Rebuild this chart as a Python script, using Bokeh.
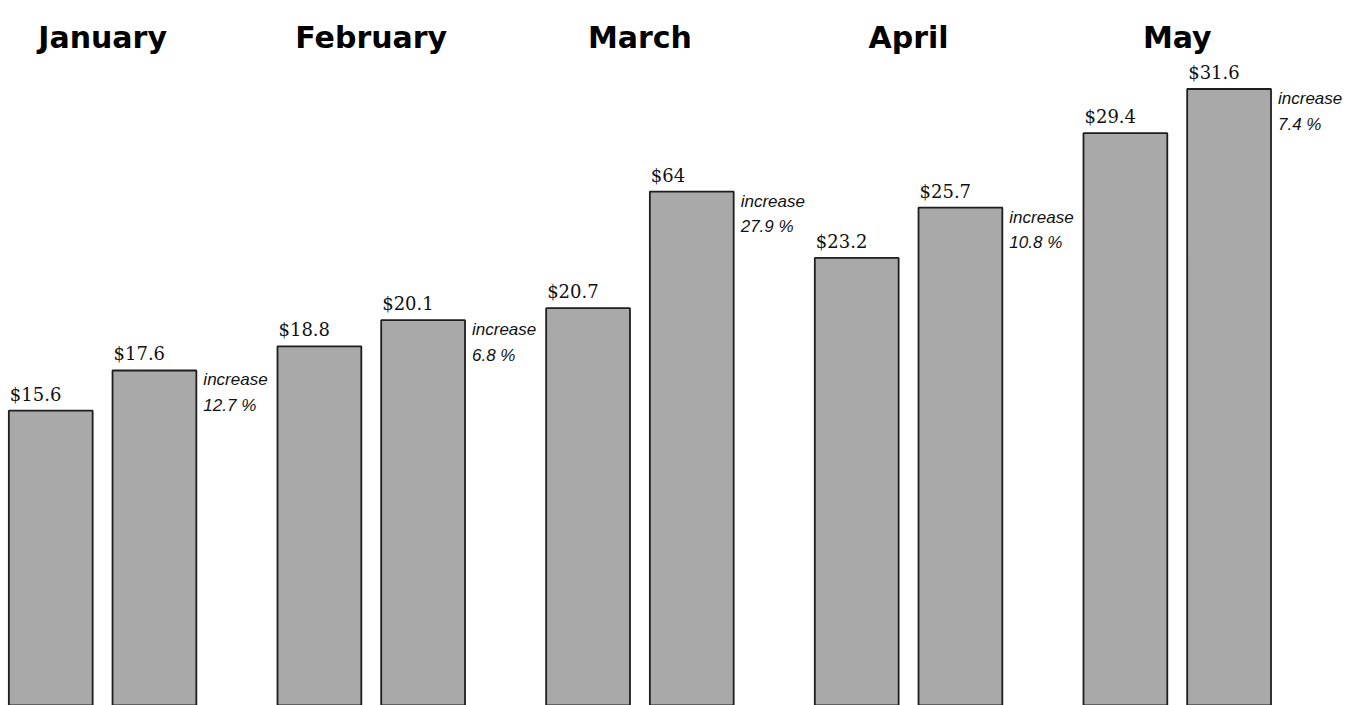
import numpy as np
from bokeh.plotting import figure
from bokeh.models import ColumnDataSource, Range1d
from bokeh.core.properties import value
from bokeh.embed import file_html
from bokeh.resources import INLINE

# Monthly figures: previous-year and current-year amounts (in $)
months = ["January", "February", "March", "April", "May"]
prev_year = [15.6, 18.8, 20.7, 23.2, 29.4]
curr_year = [17.6, 20.1, 26.5, 25.7, 31.6]
prev_labels = ["$15.6", "$18.8", "$20.7", "$23.2", "$29.4"]
curr_labels = ["$17.6", "$20.1", "$64", "$25.7", "$31.6"]
increase_pct = ["12.7", "6.8", "27.9", "10.8", "7.4"]

# Layout in group units: each month occupies 1 unit on x
BAR_W = 0.312
OFFSET = 0.193
Y_TOP = 36.0

idx = np.arange(len(months), dtype=float)
x_prev = idx - OFFSET
x_curr = idx + OFFSET

p = figure(width=1346, height=705, output_backend="svg", toolbar_location=None,
           x_range=Range1d(-0.38, 4.63), y_range=Range1d(0.94, Y_TOP),
           min_border=0, background_fill_color="white", border_fill_color="white")
p.axis.visible = False
p.grid.visible = False
p.outline_line_color = None

bars = ColumnDataSource(dict(
    x=np.concatenate([x_prev, x_curr]),
    top=prev_year + curr_year,
    label=prev_labels + curr_labels,
    lx=np.concatenate([x_prev, x_curr]) - BAR_W / 2,
))
p.vbar(x="x", top="top", bottom=0, width=BAR_W, source=bars,
       fill_color="#a9a9a9", line_color="#1e1e1e", line_width=1.8)

# Dollar amounts above each bar
p.text(x="lx", y="top", text="label", source=bars, x_offset=1, y_offset=-6,
       text_font=value("DejaVu Serif"), text_font_size="18px",
       text_color="#111111", text_baseline="bottom", text_align="left")

# Percentage increase beside the current-year bar
inc = ColumnDataSource(dict(
    x=x_curr + BAR_W / 2,
    y=curr_year,
    text=[f"increase\n{v} %" for v in increase_pct],
))
p.text(x="x", y="y", text="text", source=inc, x_offset=7, y_offset=0,
       text_font=value("Liberation Sans"), text_font_style="italic",
       text_font_size="17px", text_line_height=1.35,
       text_color="#111111", text_baseline="top", text_align="left")

# Month headings across the top
heads = ColumnDataSource(dict(x=idx, y=[Y_TOP] * len(months), text=months))
p.text(x="x", y="y", text="text", source=heads, y_offset=37,
       text_font=value("DejaVu Sans"), text_font_style="bold",
       text_font_size="30px", text_color="#000000",
       text_baseline="alphabetic", text_align="center")

open("out.html", "w").write(file_html(p, INLINE))
